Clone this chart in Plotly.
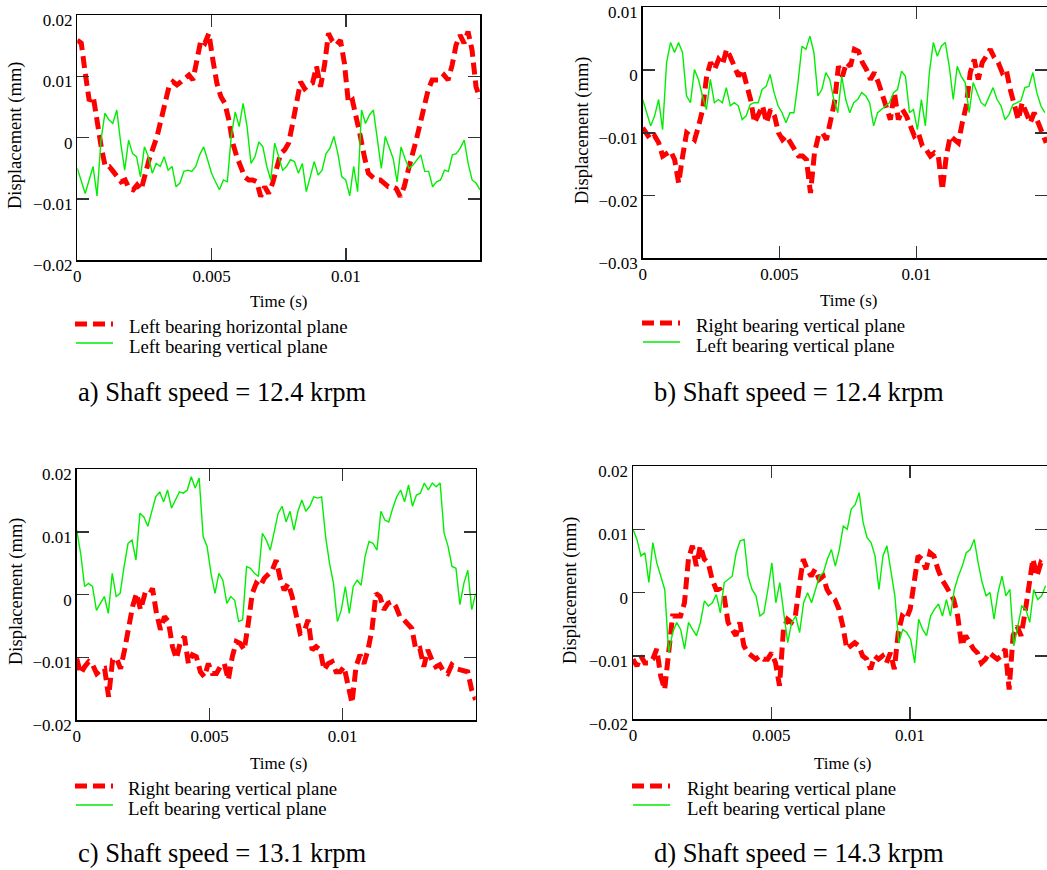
import numpy as np
import plotly.graph_objects as go

W, H = 1047, 870
FONT = "Liberation Serif"

# ---------------- data (displacement in mm) ----------------
# a) 12.4 krpm
a_red_left_horizontal = [0.0159, 0.0154, 0.0105, 0.0060, 0.0067, 0.0023, -0.0015, -0.0047, -0.0047, -0.0055, -0.0064, -0.0072, -0.0069, -0.0083, -0.0085, -0.0077, -0.0085, -0.0058, -0.0036, -0.0017, 0.0002, 0.0029, 0.0056, 0.0083, 0.0091, 0.0086, 0.0091, 0.0097, 0.0102, 0.0094, 0.0124, 0.0159, 0.0154, 0.0170, 0.0127, 0.0089, 0.0067, 0.0056, 0.0029, -0.0009, -0.0031, -0.0047, -0.0064, -0.0069, -0.0069, -0.0072, -0.0096, -0.0080, -0.0091, -0.0074, -0.0047, -0.0026, -0.0020, -0.0009, 0.0023, 0.0061, 0.0091, 0.0080, 0.0086, 0.0089, 0.0116, 0.0083, 0.0118, 0.0170, 0.0157, 0.0151, 0.0159, 0.0121, 0.0056, 0.0061, 0.0034, 0.0002, -0.0031, -0.0058, -0.0064, -0.0069, -0.0069, -0.0074, -0.0080, -0.0080, -0.0083, -0.0096, -0.0080, -0.0053, -0.0031, -0.0004, 0.0023, 0.0051, 0.0078, 0.0094, 0.0094, 0.0094, 0.0102, 0.0094, 0.0118, 0.0151, 0.0167, 0.0154, 0.0173, 0.0143, 0.0083, 0.0064]
a_green_left_vertical = [-0.0050, -0.0069, -0.0091, -0.0069, -0.0047, -0.0095, -0.0004, 0.0040, 0.0029, 0.0023, 0.0045, -0.0009, -0.0053, -0.0004, -0.0026, -0.0031, -0.0064, -0.0015, -0.0031, -0.0058, -0.0042, -0.0047, -0.0031, -0.0053, -0.0047, -0.0080, -0.0074, -0.0055, -0.0053, -0.0055, -0.0047, -0.0028, -0.0015, -0.0036, -0.0058, -0.0072, -0.0085, -0.0069, -0.0072, 0.0002, 0.0042, 0.0018, 0.0056, 0.0018, -0.0042, -0.0031, -0.0007, -0.0015, -0.0047, -0.0069, -0.0009, -0.0031, -0.0053, -0.0047, -0.0036, -0.0039, -0.0058, -0.0042, -0.0088, -0.0064, -0.0039, -0.0061, -0.0053, -0.0026, -0.0017, 0.0002, -0.0026, -0.0064, -0.0069, -0.0095, -0.0047, -0.0088, 0.0045, 0.0023, 0.0037, 0.0045, -0.0004, -0.0050, 0.0002, -0.0015, -0.0034, -0.0072, -0.0015, -0.0034, -0.0050, -0.0045, -0.0036, -0.0028, -0.0055, -0.0055, -0.0080, -0.0072, -0.0069, -0.0053, -0.0055, -0.0028, -0.0026, -0.0017, -0.0004, -0.0042, -0.0069, -0.0074, -0.0085]
a_red_t_end, a_green_t_end = 0.0150, 0.0150

# b) 12.4 krpm
b_red_right_vertical = [-0.0092, -0.0100, -0.0111, -0.0105, -0.0116, -0.0137, -0.0134, -0.0129, -0.0143, -0.0180, -0.0137, -0.0100, -0.0105, -0.0111, -0.0089, -0.0063, -0.0010, 0.0012, 0.0001, 0.0017, 0.0009, 0.0033, 0.0020, 0.0006, -0.0010, 0.0001, -0.0020, -0.0047, -0.0084, -0.0068, -0.0057, -0.0084, -0.0063, -0.0073, -0.0100, -0.0111, -0.0105, -0.0116, -0.0127, -0.0137, -0.0137, -0.0143, -0.0196, -0.0132, -0.0105, -0.0100, -0.0111, -0.0079, -0.0052, 0.0006, -0.0010, 0.0012, 0.0006, 0.0033, 0.0030, 0.0012, 0.0001, -0.0015, -0.0004, -0.0020, -0.0041, -0.0057, -0.0079, -0.0036, -0.0079, -0.0063, -0.0073, -0.0089, -0.0105, -0.0100, -0.0121, -0.0127, -0.0137, -0.0132, -0.0137, -0.0191, -0.0137, -0.0105, -0.0111, -0.0116, -0.0084, -0.0057, -0.0004, 0.0017, -0.0015, 0.0012, 0.0022, 0.0033, 0.0020, 0.0012, -0.0004, 0.0001, -0.0031, -0.0052, -0.0079, -0.0052, -0.0068, -0.0084, -0.0068, -0.0084, -0.0100, -0.0116]
b_green_left_vertical = [-0.0047, -0.0068, -0.0089, -0.0073, -0.0047, -0.0095, 0.0012, 0.0044, 0.0028, 0.0044, 0.0028, -0.0041, -0.0052, 0.0001, -0.0015, -0.0041, -0.0063, -0.0015, -0.0052, -0.0047, -0.0052, -0.0028, -0.0057, -0.0052, -0.0057, -0.0079, -0.0073, -0.0055, -0.0052, -0.0052, -0.0031, -0.0026, -0.0007, -0.0036, -0.0057, -0.0068, -0.0084, -0.0068, -0.0068, -0.0020, 0.0038, 0.0033, 0.0054, 0.0028, -0.0041, -0.0031, -0.0004, -0.0015, -0.0047, -0.0068, -0.0010, -0.0047, -0.0068, -0.0052, -0.0047, -0.0036, -0.0041, -0.0052, -0.0089, -0.0068, -0.0063, -0.0057, -0.0052, -0.0036, -0.0031, -0.0002, -0.0010, -0.0068, -0.0063, -0.0095, -0.0047, -0.0089, -0.0004, 0.0044, 0.0022, 0.0038, 0.0044, 0.0006, -0.0047, 0.0006, -0.0010, -0.0020, -0.0068, -0.0020, -0.0036, -0.0052, -0.0057, -0.0041, -0.0028, -0.0047, -0.0057, -0.0079, -0.0071, -0.0055, -0.0052, -0.0049, -0.0028, -0.0026, -0.0004, -0.0036, -0.0057, -0.0068]
b_red_t_end, b_green_t_end = 0.01475, 0.0147

# c) 13.1 krpm
c_red_right_vertical = [-0.0102, -0.0126, -0.0115, -0.0107, -0.0112, -0.0126, -0.0120, -0.0118, -0.0163, -0.0104, -0.0102, -0.0118, -0.0088, -0.0056, -0.0019, 0.0002, -0.0024, -0.0001, -0.0003, 0.0010, -0.0030, -0.0056, -0.0035, -0.0043, -0.0083, -0.0102, -0.0075, -0.0067, -0.0110, -0.0096, -0.0099, -0.0123, -0.0131, -0.0110, -0.0126, -0.0126, -0.0115, -0.0110, -0.0136, -0.0099, -0.0075, -0.0078, -0.0088, -0.0046, 0.0002, 0.0018, 0.0013, 0.0026, 0.0034, 0.0039, 0.0055, 0.0026, 0.0007, 0.0018, -0.0003, -0.0035, -0.0062, -0.0059, -0.0040, -0.0088, -0.0083, -0.0088, -0.0120, -0.0110, -0.0107, -0.0123, -0.0123, -0.0115, -0.0141, -0.0173, -0.0115, -0.0096, -0.0110, -0.0088, -0.0056, 0.0002, -0.0003, -0.0024, -0.0014, -0.0011, -0.0019, -0.0035, -0.0040, -0.0046, -0.0054, -0.0088, -0.0086, -0.0115, -0.0088, -0.0104, -0.0115, -0.0112, -0.0123, -0.0126, -0.0112, -0.0118, -0.0120, -0.0120, -0.0123, -0.0152, -0.0168]
c_green_left_vertical = [0.0103, 0.0066, 0.0013, 0.0018, 0.0013, -0.0025, -0.0014, -0.0003, -0.0030, 0.0034, -0.0003, 0.0002, 0.0045, 0.0082, 0.0087, 0.0055, 0.0130, 0.0124, 0.0109, 0.0135, 0.0156, 0.0164, 0.0148, 0.0167, 0.0138, 0.0151, 0.0164, 0.0162, 0.0167, 0.0188, 0.0170, 0.0186, 0.0093, 0.0077, 0.0034, 0.0002, 0.0034, 0.0023, -0.0014, -0.0003, -0.0009, -0.0043, -0.0040, 0.0045, 0.0042, 0.0034, 0.0029, 0.0098, 0.0087, 0.0071, 0.0101, 0.0130, 0.0141, 0.0116, 0.0133, 0.0103, 0.0133, 0.0151, 0.0133, 0.0141, 0.0156, 0.0154, 0.0156, 0.0093, 0.0050, 0.0018, -0.0043, -0.0024, 0.0013, -0.0030, 0.0013, 0.0023, 0.0015, 0.0061, 0.0085, 0.0082, 0.0071, 0.0133, 0.0119, 0.0116, 0.0138, 0.0156, 0.0167, 0.0148, 0.0175, 0.0141, 0.0159, 0.0162, 0.0178, 0.0167, 0.0178, 0.0172, 0.0178, 0.0098, 0.0077, 0.0045, 0.0042, -0.0016, 0.0018, 0.0039, -0.0024, 0.0002]
c_red_t_end, c_green_t_end = 0.0150, 0.0150

# d) 14.3 krpm
d_red_right_vertical = [-0.0105, -0.0116, -0.0100, -0.0111, -0.0111, -0.0105, -0.0089, -0.0132, -0.0153, -0.0089, -0.0037, -0.0037, -0.0037, -0.0016, 0.0053, 0.0074, 0.0042, 0.0074, 0.0053, 0.0047, 0.0021, 0.0005, 0.0005, -0.0005, -0.0047, -0.0058, -0.0068, -0.0047, -0.0084, -0.0095, -0.0100, -0.0105, -0.0100, -0.0105, -0.0105, -0.0095, -0.0111, -0.0147, -0.0058, -0.0042, -0.0047, -0.0037, 0.0011, 0.0053, 0.0037, 0.0026, 0.0037, 0.0021, 0.0026, 0.0005, -0.0005, -0.0011, -0.0026, -0.0053, -0.0089, -0.0084, -0.0079, -0.0084, -0.0100, -0.0105, -0.0121, -0.0100, -0.0105, -0.0100, -0.0111, -0.0095, -0.0121, -0.0063, -0.0037, -0.0042, -0.0026, 0.0016, 0.0058, 0.0053, 0.0037, 0.0063, 0.0058, 0.0037, 0.0021, 0.0011, 0.0000, -0.0011, -0.0037, -0.0084, -0.0068, -0.0079, -0.0089, -0.0095, -0.0111, -0.0105, -0.0095, -0.0100, -0.0105, -0.0100, -0.0089, -0.0153, -0.0068, -0.0053, -0.0068, -0.0032, 0.0016, 0.0053, 0.0026, 0.0047, 0.0042]
d_green_left_vertical = [0.0100, 0.0084, 0.0058, 0.0063, 0.0016, 0.0079, 0.0047, 0.0026, 0.0005, -0.0095, -0.0063, -0.0047, -0.0058, -0.0089, -0.0047, -0.0058, -0.0068, -0.0047, -0.0013, -0.0021, -0.0016, -0.0003, -0.0032, 0.0016, 0.0021, 0.0026, 0.0063, 0.0082, 0.0084, 0.0026, 0.0005, -0.0005, -0.0037, -0.0032, 0.0005, 0.0047, -0.0016, 0.0016, -0.0032, -0.0079, -0.0047, -0.0037, -0.0063, -0.0016, 0.0000, -0.0016, 0.0005, 0.0026, 0.0032, 0.0053, 0.0068, 0.0042, 0.0068, 0.0105, 0.0100, 0.0132, 0.0139, 0.0158, 0.0111, 0.0087, 0.0079, 0.0058, 0.0005, 0.0058, 0.0074, 0.0037, -0.0005, -0.0079, -0.0058, -0.0063, -0.0074, -0.0111, -0.0042, -0.0058, -0.0068, -0.0037, -0.0026, -0.0018, -0.0037, -0.0011, -0.0037, 0.0005, 0.0026, 0.0042, 0.0063, 0.0068, 0.0084, 0.0047, 0.0016, -0.0005, 0.0000, -0.0042, 0.0000, 0.0026, -0.0005, 0.0005, -0.0084, -0.0053, -0.0021, -0.0026, -0.0047, 0.0005, -0.0011, -0.0005, 0.0011]
d_red_t_end, d_green_t_end = 0.01487, 0.0149

# tick labels
x_tickvals = [0, 0.005, 0.01]
x_ticktext = ["0", "0.005", "0.01"]
y_tickvals_02 = [-0.02, -0.01, 0, 0.01, 0.02]
y_ticktext_02 = ["\u22120.02", "\u22120.01", "0", "0.01", "0.02"]
y_tickvals_b = [-0.03, -0.02, -0.01, 0, 0.01]
y_ticktext_b = ["\u22120.03", "\u22120.02", "\u22120.01", "0", "0.01"]

captions = ["a) Shaft speed = 12.4 krpm", "b) Shaft speed = 12.4 krpm",
            "c) Shaft speed = 13.1 krpm", "d) Shaft speed = 14.3 krpm"]
legend_red = ["Left bearing horizontal plane", "Right bearing vertical plane",
              "Right bearing vertical plane", "Right bearing vertical plane"]
legend_green = ["Left bearing vertical plane"] * 4

RED, GREEN = "#ff0000", "#00ee00"
RED_DASH = "12px,6px"


def px_x(x):
    return x / W


def px_y(y):
    return 1 - y / H


panels = [
    dict(box=(77.3, 480.0, 15.0, 260.3), xend=0.0150, yr=(-0.02, 0.02),
         yt=(y_tickvals_02, y_ticktext_02),
         red=(a_red_left_horizontal, a_red_t_end), green=(a_green_left_vertical, a_green_t_end),
         ytitle=(16, 136), xtitle=(278, 302), leg=(75, 127, 324, 343), cap=(76, 392)),
    dict(box=(642.7, 1047.0, 7.3, 258.3), xend=0.01478, yr=(-0.03, 0.01),
         yt=(y_tickvals_b, y_ticktext_b),
         red=(b_red_right_vertical, b_red_t_end), green=(b_green_left_vertical, b_green_t_end),
         ytitle=(582, 131), xtitle=(848, 300), leg=(642, 694, 323, 342), cap=(652, 392)),
    dict(box=(76.7, 475.7, 469.3, 720.0), xend=0.0150, yr=(-0.02, 0.02),
         yt=(y_tickvals_02, y_ticktext_02),
         red=(c_red_right_vertical, c_red_t_end), green=(c_green_left_vertical, c_green_t_end),
         ytitle=(16, 592), xtitle=(278, 763), leg=(75, 126, 786, 805), cap=(76, 853)),
    dict(box=(633.0, 1047.0, 466.0, 719.3), xend=0.01495, yr=(-0.02, 0.02),
         yt=(y_tickvals_02, y_ticktext_02),
         red=(d_red_right_vertical, d_red_t_end), green=(d_green_left_vertical, d_green_t_end),
         ytitle=(570, 591), xtitle=(842, 763), leg=(632, 685, 786, 805), cap=(652, 853)),
]

fig = go.Figure()
shapes, annotations = [], []
layout_axes = {}

for i, p in enumerate(panels, start=1):
    sx = "" if i == 1 else str(i)
    x0, x1, yt_, yb_ = p["box"]
    rv, rend = p["red"]
    gv, gend = p["green"]
    t_red = np.linspace(0, rend, len(rv))
    t_green = np.linspace(0, gend, len(gv))
    fig.add_trace(go.Scatter(x=t_red, y=rv, mode="lines", xaxis="x" + sx, yaxis="y" + sx,
                             line=dict(color=RED, width=5, dash=RED_DASH),
                             showlegend=False, hoverinfo="skip"))
    fig.add_trace(go.Scatter(x=t_green, y=gv, mode="lines", xaxis="x" + sx, yaxis="y" + sx,
                             line=dict(color=GREEN, width=1.4),
                             showlegend=False, hoverinfo="skip"))
    common = dict(showgrid=False, zeroline=False, showline=True, linecolor="black",
                  linewidth=1.5, mirror="ticks", ticks="inside", ticklen=12, tickwidth=1.5,
                  tickcolor="#333333", automargin=False, ticklabeloverflow="allow",
                  tickfont=dict(family=FONT, size=17, color="black"))
    layout_axes["xaxis" + sx] = dict(common, domain=[px_x(x0), min(1.0, px_x(x1))],
                                     range=[0, p["xend"]], anchor="y" + sx,
                                     tickmode="array", tickvals=x_tickvals, ticktext=x_ticktext)
    layout_axes["yaxis" + sx] = dict(common, domain=[px_y(yb_), px_y(yt_)],
                                     range=list(p["yr"]), anchor="x" + sx, ticklabelshift=5,
                                     tickmode="array", tickvals=p["yt"][0], ticktext=p["yt"][1])

    tx, ty = p["ytitle"]
    annotations.append(dict(x=px_x(tx), y=px_y(ty), xref="paper", yref="paper",
                            text="Displacement (mm)", textangle=-90, showarrow=False,
                            xanchor="center", yanchor="middle",
                            font=dict(family=FONT, size=18.5, color="black")))
    tx, ty = p["xtitle"]
    annotations.append(dict(x=px_x(tx), y=px_y(ty), xref="paper", yref="paper",
                            text="Time (s)", showarrow=False, xanchor="center", yanchor="middle",
                            font=dict(family=FONT, size=17, color="black")))
    lx, ltx, ly1, ly2 = p["leg"]
    shapes.append(dict(type="line", xref="paper", yref="paper",
                       x0=px_x(lx), x1=px_x(lx + 38), y0=px_y(ly1), y1=px_y(ly1),
                       line=dict(color=RED, width=5, dash=RED_DASH)))
    shapes.append(dict(type="line", xref="paper", yref="paper",
                       x0=px_x(lx + 1), x1=px_x(lx + 38), y0=px_y(ly2), y1=px_y(ly2),
                       line=dict(color=GREEN, width=1.4)))
    annotations.append(dict(x=px_x(ltx), y=px_y(ly1 + 2), xref="paper", yref="paper",
                            text=legend_red[i - 1], showarrow=False, xanchor="left",
                            yanchor="middle", font=dict(family=FONT, size=18.8, color="black")))
    annotations.append(dict(x=px_x(ltx), y=px_y(ly2 + 3), xref="paper", yref="paper",
                            text=legend_green[i - 1], showarrow=False, xanchor="left",
                            yanchor="middle", font=dict(family=FONT, size=18.8, color="black")))
    cx, cy = p["cap"]
    annotations.append(dict(x=px_x(cx), y=px_y(cy), xref="paper", yref="paper",
                            text=captions[i - 1], showarrow=False, xanchor="left",
                            yanchor="middle", font=dict(family=FONT, size=26.6, color="black")))

fig.update_layout(width=W, height=H, margin=dict(l=0, r=0, t=0, b=0, autoexpand=False),
                  paper_bgcolor="white", plot_bgcolor="white",
                  shapes=shapes, annotations=annotations, showlegend=False,
                  **layout_axes)

fig.write_html("out.html", config={"displayModeBar": False, "staticPlot": True},
               post_script="document.body.style.margin='0px';document.body.style.overflow='hidden';")
